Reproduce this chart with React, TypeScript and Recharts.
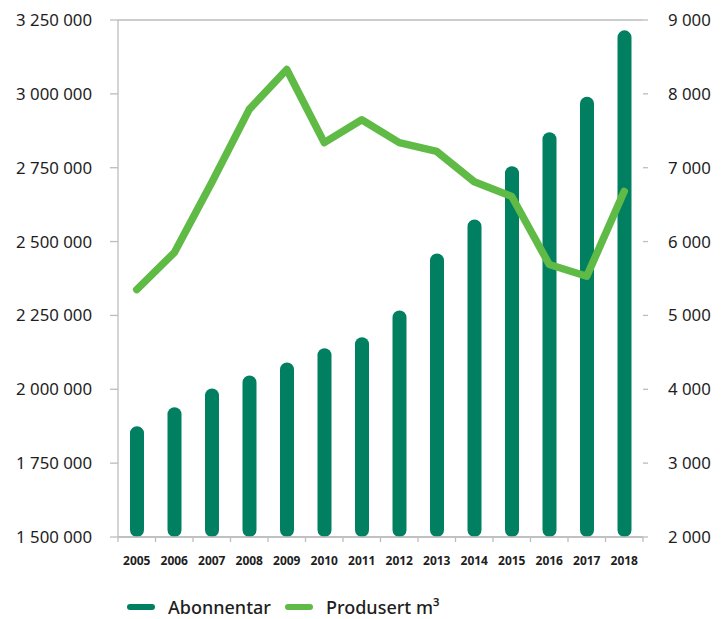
import React from "react";
import {
  ComposedChart,
  Bar,
  Line,
  XAxis,
  YAxis,
  CartesianGrid,
  Legend,
} from "recharts";

const years = ["2005","2006","2007","2008","2009","2010","2011","2012","2013","2014","2015","2016","2017","2018"];
const abonnentar = [1875000,1939000,2003000,2047000,2091000,2139000,2176000,2267000,2460000,2575000,2755000,2870000,2990000,3215000];
const produsert = [5350,5850,6800,7790,8330,7340,7650,7340,7220,6810,6610,5690,5530,6680];
const leftTicks = [1500000,1750000,2000000,2250000,2500000,2750000,3000000,3250000];
const rightTicks = [2000,3000,4000,5000,6000,7000,8000,9000];
const seriesNames = ["Abonnentar", "Produsert m³"];

const data = years.map((y, i) => ({ year: y, abonnentar: abonnentar[i], produsert: produsert[i] }));

const W = 728;
const H = 619;
const LEFT_W = 118;
const RIGHT_W = 85;
const STEP = (W - LEFT_W - RIGHT_W) / years.length;

const BAR_COLOR = "#008061";
const LINE_COLOR = "#5fba46";
const GRID = "#bdbdbd";
const FONT = "'Noto Sans', 'Open Sans', sans-serif";

const fmt = (v: number) => String(v).replace(/\B(?=(\d{3})+(?!\d))/g, " ");

const XTick = (props: any) => {
  const { x, y, payload, index } = props;
  return (
    <g>
      <line x1={x - STEP / 2} x2={x - STEP / 2} y1={y} y2={y + 5} stroke={GRID} strokeWidth={1.3} />
      {index === years.length - 1 && (
        <line x1={x + STEP / 2} x2={x + STEP / 2} y1={y} y2={y + 5} stroke={GRID} strokeWidth={1.3} />
      )}
      <text x={x} y={y + 28} textAnchor="middle" fontFamily={FONT} fontSize={12} fontWeight={700} fill="#1e1e1e">
        {payload.value}
      </text>
    </g>
  );
};

const LegendContent = () => (
  <div style={{ display: "flex", alignItems: "center", paddingLeft: 127, height: 24, fontFamily: FONT, fontSize: 18, fontWeight: 500, color: "#1e1e1e" }}>
    {[BAR_COLOR, LINE_COLOR].map((c, i) => (
      <div key={i} style={{ display: "flex", alignItems: "center", marginRight: 14 }}>
        <div style={{ width: 28, height: 6, borderRadius: 3, background: c, marginRight: 13 }} />
        <span>{seriesNames[i]}</span>
      </div>
    ))}
  </div>
);

export default function App() {
  return (
    <div style={{ position: "absolute", left: 0, top: 0, width: W, height: H, background: "#fff" }}>
      <ComposedChart width={W} height={H} data={data} margin={{ top: 20, right: 0, left: 0, bottom: 0 }}>
        <CartesianGrid vertical={false} stroke={GRID} strokeWidth={1.3} />
        <XAxis
          dataKey="year"
          axisLine={{ stroke: GRID, strokeWidth: 1.3 }}
          tickLine={false}
          tickSize={0}
          tickMargin={0}
          height={58}
          interval={0}
          tick={<XTick />}
        />
        <YAxis
          yAxisId="left"
          orientation="left"
          width={LEFT_W}
          domain={[1500000, 3250000]}
          ticks={leftTicks}
          tickFormatter={fmt}
          axisLine={{ stroke: GRID, strokeWidth: 1.3 }}
          tickLine={{ stroke: GRID, strokeWidth: 1.3 }}
          tickSize={8}
          tickMargin={18}
          tick={{ fontFamily: FONT, fontSize: 16.8, fill: "#1e1e1e" }}
          interval={0}
        />
        <YAxis
          yAxisId="right"
          orientation="right"
          width={RIGHT_W}
          domain={[2000, 9000]}
          ticks={rightTicks}
          tickFormatter={fmt}
          axisLine={false}
          tickLine={{ stroke: GRID, strokeWidth: 1.3 }}
          tickSize={5}
          tickMargin={20}
          tick={{ fontFamily: FONT, fontSize: 16.8, fill: "#1e1e1e" }}
          interval={0}
        />
        <Bar yAxisId="left" dataKey="abonnentar" name={seriesNames[0]} fill={BAR_COLOR} barSize={14} radius={[7, 7, 7, 7]} isAnimationActive={false} />
        <Line yAxisId="right" type="linear" dataKey="produsert" name={seriesNames[1]} stroke={LINE_COLOR} strokeWidth={7.5} strokeLinejoin="round" strokeLinecap="round" dot={false} activeDot={false} isAnimationActive={false} />
        <Legend verticalAlign="bottom" align="left" content={<LegendContent />} wrapperStyle={{ left: 0, width: W }} />
      </ComposedChart>
    </div>
  );
}
